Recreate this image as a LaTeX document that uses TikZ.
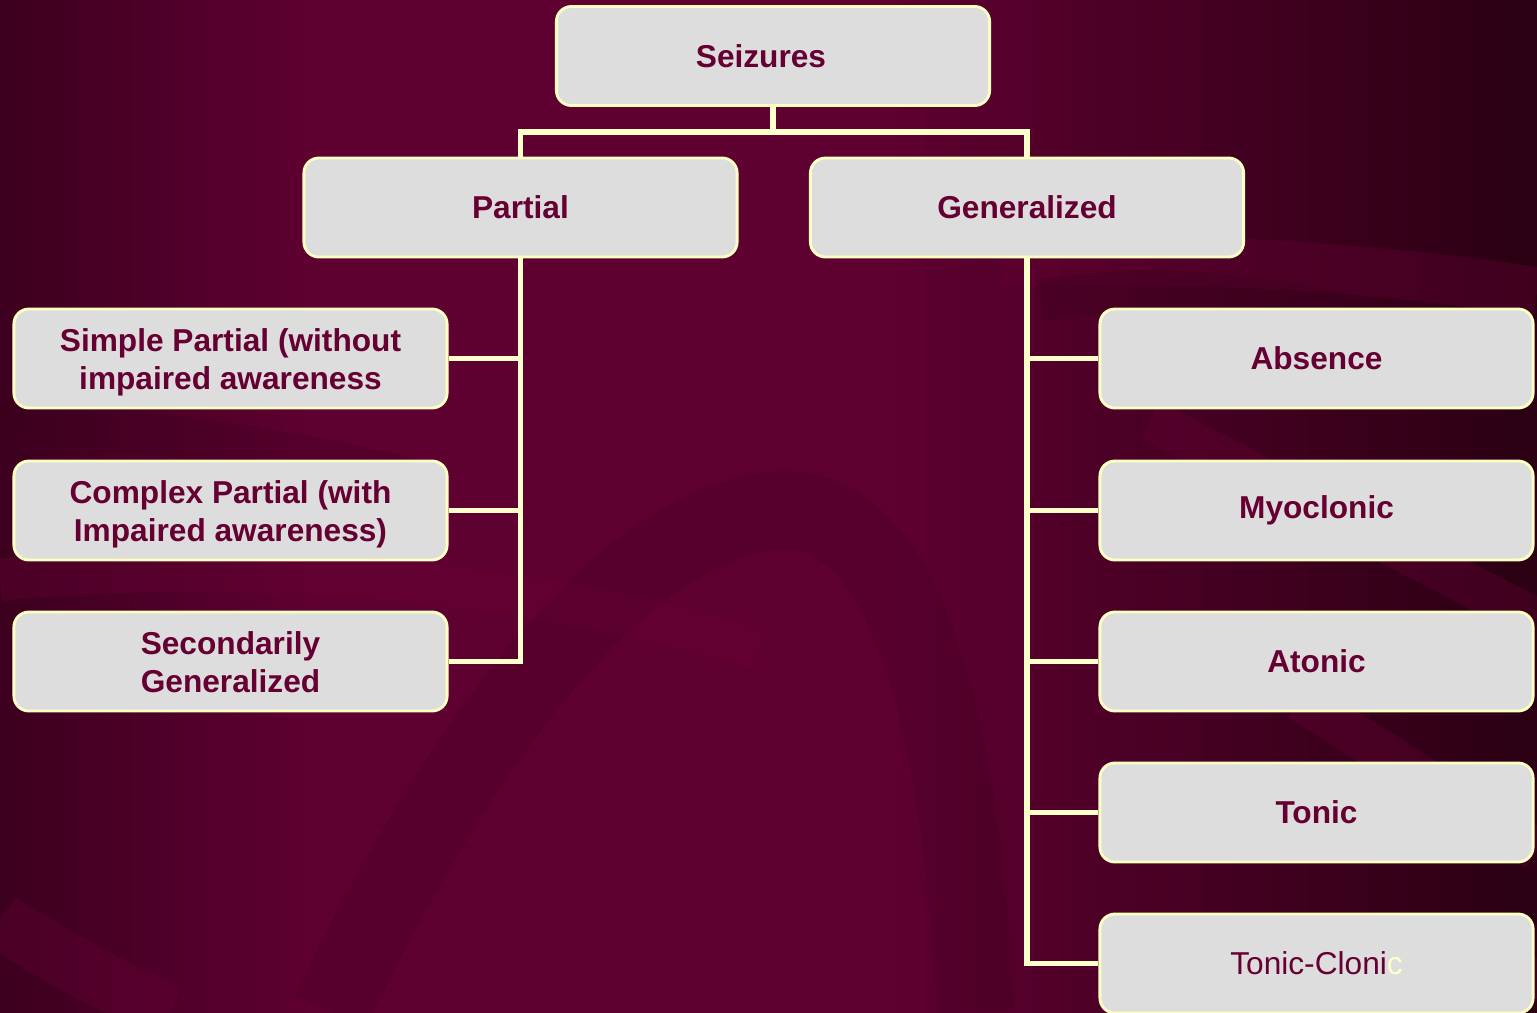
\documentclass[tikz,border=0pt]{standalone}
\usepackage{fontspec}
\setmainfont{Liberation Sans}
\definecolor{bgmaroon}{HTML}{5E0030}
\definecolor{bgdark}{HTML}{3C001E}
\definecolor{bgdarker}{HTML}{2A0012}
\definecolor{bgshadow}{HTML}{3A001D}
\definecolor{bglight}{HTML}{680035}
\definecolor{boxgrey}{HTML}{DDDDDD}
\definecolor{edgeyellow}{HTML}{FFFFC4}
\definecolor{lineyellow}{HTML}{FFFFCC}
\definecolor{textmaroon}{HTML}{660033}
\pgfdeclarehorizontalshading{bgshade}{100bp}{color(0bp)=(bgdark); color(25bp)=(bgdark); color(35bp)=(bgmaroon); color(54bp)=(bgmaroon); color(75bp)=(bgdarker); color(100bp)=(bgdarker)}

\begin{document}
\begin{tikzpicture}[x=0.01cm,y=-0.01cm]
   \tikzstyle{box}=[draw=edgeyellow, line width=0.8pt, fill=boxgrey, rounded corners=0.15cm, minimum width=4.33cm, minimum height=0.99cm, align=center, text=textmaroon, font=\fontsize{9}{10.8}\selectfont\bfseries]
   \tikzstyle{twoline}=[text height=17.4pt, text depth=0pt]
   \tikzstyle{link}=[draw=lineyellow, line width=1.6pt]
   \tikzstyle{band}=[line width=12pt, opacity=0.35]

\useasboundingbox (0,0) rectangle (1537,1012);
\clip (0,0) rectangle (1537,1012);

% background
\shade[shading=bgshade] (0,0) rectangle (1537,1012);
\draw[band, bgshadow, line width=22pt, opacity=0.22] (330,1012) .. controls (480,700) and (640,520) .. (780,510) .. controls (900,505) and (960,700) .. (975,1012);
\draw[band, bglight, line width=14pt] (1000,262) .. controls (1200,255) and (1400,270) .. (1537,292);
\draw[band, bgshadow] (1040,300) .. controls (1250,270) and (1420,330) .. (1537,380);
\draw[band, bglight] (1150,420) -- (1537,620);
\draw[band, bglight] (1300,700) -- (1537,850);
\draw[band, bglight, line width=20pt] (1430,1012) -- (1537,960);
\draw[band, bgshadow, opacity=0.25] (0,420) .. controls (150,430) and (300,450) .. (430,485);
\draw[band, bglight] (0,580) .. controls (200,560) and (500,570) .. (760,650);
\draw[band, bglight, line width=16pt] (0,920) .. controls (60,960) and (120,990) .. (170,1012);

% nodes
\node[box] (seiz) at (773,56) {Seizures\hspace*{0.24cm}};
\node[box] (part) at (520.5,207.5) {Partial};
\node[box] (gen) at (1027,207.5) {Generalized};

\node[box, twoline] (simple) at (230.5,358.5) {Simple Partial (without\\impaired awareness};
\node[box, twoline] (complex) at (230.5,510.5) {Complex Partial (with\\Impaired awareness)};
\node[box, twoline] (second) at (230.5,661.5) {Secondarily\\Generalized};

\node[box] (absence) at (1316.5,358.5) {Absence};
\node[box] (myo) at (1316.5,510.5) {Myoclonic};
\node[box] (atonic) at (1316.5,661.5) {Atonic};
\node[box] (tonic) at (1316.5,812.5) {Tonic};
\node[box, font=\fontsize{9}{10.8}\selectfont] (clonic) at (1316.5,963.5) {Tonic-Cloni\textcolor{lineyellow}{c}};

% connectors
\coordinate (fork) at (773,132);
\draw[link] (seiz.south) -- (fork) -| (part.north);
\draw[link] (fork) -| (gen.north);

\draw[link] (part.south) |- (simple.east);
\draw[link] (part.south) |- (complex.east);
\draw[link] (part.south) |- (second.east);

\draw[link] (gen.south) |- (absence.west);
\draw[link] (gen.south) |- (myo.west);
\draw[link] (gen.south) |- (atonic.west);
\draw[link] (gen.south) |- (tonic.west);
\draw[link] (gen.south) |- (clonic.west);

\end{tikzpicture}
\end{document}
